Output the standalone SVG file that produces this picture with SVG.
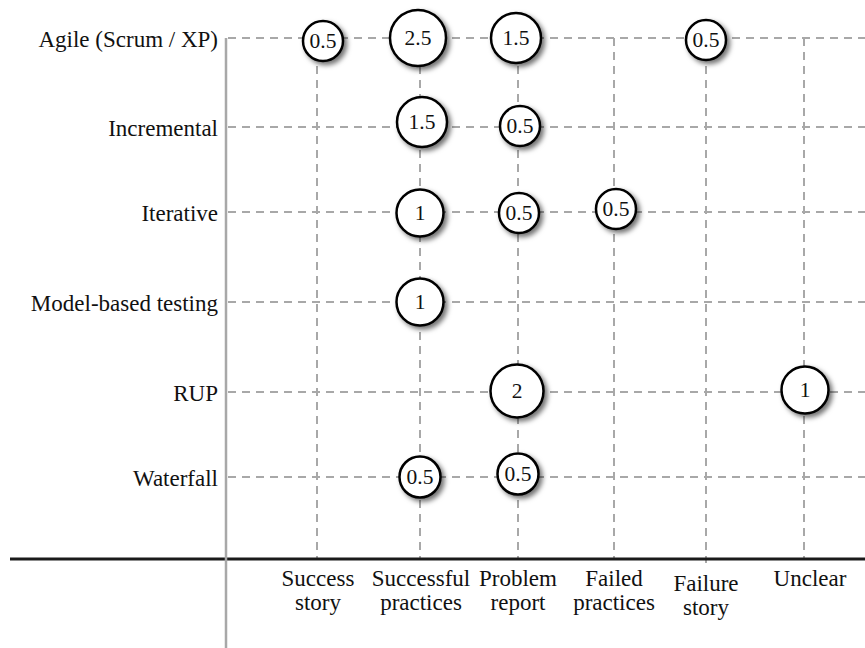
<svg xmlns="http://www.w3.org/2000/svg" width="865" height="648" viewBox="0 0 865 648">
<style>
.grid{stroke:#a8a8a8;stroke-width:2;stroke-dasharray:8 6;fill:none}
.lbl{font-size:23px;fill:#111}
.row{text-anchor:end}
.col{text-anchor:middle}
.bub circle{fill:#fff;stroke:#000;stroke-width:2.5;filter:url(#sh)}
.bub text{font-size:21.5px;fill:#111;text-anchor:middle}
</style>
<defs>
<filter id="sh" x="-40%" y="-40%" width="190%" height="190%">
<feDropShadow dx="3" dy="3" stdDeviation="2.5" flood-color="#000" flood-opacity="0.55"/>
</filter>
</defs>
<rect width="865" height="648" fill="#fff"/>
<g id="connectors">
<g class="grid">
<line x1="228" y1="38" x2="865" y2="38"/>
<line x1="228" y1="127" x2="865" y2="127"/>
<line x1="228" y1="212" x2="865" y2="212"/>
<line x1="228" y1="302" x2="865" y2="302"/>
<line x1="228" y1="392" x2="865" y2="392"/>
<line x1="228" y1="477" x2="865" y2="477"/>
<line x1="317" y1="38" x2="317" y2="559"/>
<line x1="420" y1="38" x2="420" y2="559"/>
<line x1="518" y1="38" x2="518" y2="559"/>
<line x1="614" y1="38" x2="614" y2="559"/>
<line x1="706" y1="38" x2="706" y2="563"/>
<line x1="804" y1="38" x2="804" y2="559"/>
</g>
<line x1="10" y1="559" x2="865" y2="559" stroke="#1a1a1a" stroke-width="3"/>
<line x1="226" y1="38" x2="226" y2="648" stroke="#a8a8a8" stroke-width="2.5"/>
</g>
<g font-family="Liberation Serif, DejaVu Serif, serif">
<g id="row-labels" class="lbl row">
<text x="218" y="47">Agile (Scrum / XP)</text>
<text x="218" y="136">Incremental</text>
<text x="218" y="221">Iterative</text>
<text x="218" y="311">Model-based testing</text>
<text x="218" y="401">RUP</text>
<text x="218" y="486">Waterfall</text>
</g>
<g id="col-labels" class="lbl col">
<text x="318" y="586">Success</text><text x="318" y="610">story</text>
<text x="421" y="586">Successful</text><text x="421" y="610">practices</text>
<text x="518" y="586">Problem</text><text x="518" y="610">report</text>
<text x="614" y="586">Failed</text><text x="614" y="610">practices</text>
<text x="706" y="591">Failure</text><text x="706" y="615">story</text>
<text x="810" y="586">Unclear</text>
</g>
<g id="b-agile-success" class="bub"><circle cx="323" cy="41" r="20"/><text x="323" y="48">0.5</text></g>
<g id="b-agile-successful" class="bub"><circle cx="418" cy="38" r="28"/><text x="418" y="45">2.5</text></g>
<g id="b-agile-problem" class="bub"><circle cx="516" cy="38" r="25"/><text x="516" y="45">1.5</text></g>
<g id="b-agile-failure" class="bub"><circle cx="706" cy="40" r="20"/><text x="706" y="47">0.5</text></g>
<g id="b-incr-successful" class="bub"><circle cx="422" cy="122" r="25"/><text x="422" y="129">1.5</text></g>
<g id="b-incr-problem" class="bub"><circle cx="520" cy="126" r="20"/><text x="520" y="133">0.5</text></g>
<g id="b-iter-successful" class="bub"><circle cx="420" cy="213" r="23.5"/><text x="420" y="220">1</text></g>
<g id="b-iter-problem" class="bub"><circle cx="519" cy="213" r="20"/><text x="519" y="220">0.5</text></g>
<g id="b-iter-failed" class="bub"><circle cx="616" cy="209" r="20"/><text x="616" y="216">0.5</text></g>
<g id="b-mbt-successful" class="bub"><circle cx="420" cy="302" r="23.5"/><text x="420" y="309">1</text></g>
<g id="b-rup-problem" class="bub"><circle cx="517" cy="391" r="26.5"/><text x="517" y="398">2</text></g>
<g id="b-rup-unclear" class="bub"><circle cx="805" cy="390" r="23.5"/><text x="805" y="397">1</text></g>
<g id="b-wf-successful" class="bub"><circle cx="420" cy="477" r="20.5"/><text x="420" y="484">0.5</text></g>
<g id="b-wf-problem" class="bub"><circle cx="518" cy="474" r="20.5"/><text x="518" y="481">0.5</text></g>
</g>
</svg>
